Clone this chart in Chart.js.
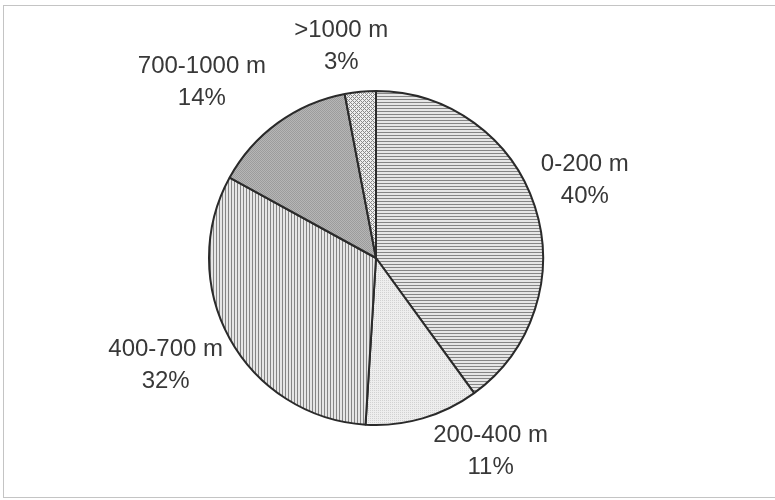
<!DOCTYPE html>
<html>
<head>
<meta charset="utf-8">
<script src="https://cdn.jsdelivr.net/npm/chart.js@4"></script>
<style>
  body { margin: 0; background: #fff; }
  #wrap { position: relative; width: 775px; height: 500px; overflow: hidden; }
  #frame { position: absolute; left: 3px; top: 5px; width: 800px; height: 491px; border: 1px solid #c4c4c4; border-right: none; }
  #pieChart { position: absolute; left: 0; top: 0; }
</style>
</head>
<body>
<div id="wrap">
  <div id="frame"></div>
  <canvas id="pieChart" width="775" height="500"></canvas>
</div>
<script>
const categories = ["0-200 m", "200-400 m", "400-700 m", "700-1000 m", ">1000 m"];
const shares = [40, 11, 32, 14, 3];
const shareLabels = ["40%", "11%", "32%", "14%", "3%"];

// little tiles used as slice fills (scanned-print look)
function makePattern(w, h, draw) {
  const c = document.createElement("canvas");
  c.width = w;
  c.height = h;
  const g = c.getContext("2d");
  draw(g);
  return g.createPattern(c, "repeat");
}

const horizLines = makePattern(1, 3, g => {
  g.fillStyle = "#e6e6e6"; g.fillRect(0, 0, 1, 3);
  g.fillStyle = "#858585"; g.fillRect(0, 0, 1, 1);
});
const lightDots = makePattern(2, 2, g => {
  g.fillStyle = "#eeeeee"; g.fillRect(0, 0, 2, 2);
  g.fillStyle = "#d2d2d2"; g.fillRect(0, 0, 1, 1);
});
const vertLines = makePattern(3, 1, g => {
  g.fillStyle = "#e6e6e6"; g.fillRect(0, 0, 3, 1);
  g.fillStyle = "#858585"; g.fillRect(0, 0, 1, 1);
});
const darkStipple = makePattern(2, 2, g => {
  g.fillStyle = "#b6b6b6"; g.fillRect(0, 0, 2, 2);
  g.fillStyle = "#9c9c9c"; g.fillRect(0, 0, 1, 1); g.fillRect(1, 1, 1, 1);
});
const crossHatch = makePattern(4, 4, g => {
  g.fillStyle = "#eeeeee"; g.fillRect(0, 0, 4, 4);
  g.fillStyle = "#8a8a8a";
  for (let x = 0; x < 4; x++) {
    for (let y = 0; y < 4; y++) {
      if ((x + y) % 4 === 0 || (x - y + 4) % 4 === 0) g.fillRect(x, y, 1, 1);
    }
  }
});

// label placement: offset of each label block from the slice's outer edge at mid angle
const outsideLabels = {
  id: "outsideLabels",
  afterDatasetsDraw(chart, args, opts) {
    const ctx = chart.ctx;
    const meta = chart.getDatasetMeta(0);
    ctx.save();
    ctx.font = "24px 'Liberation Sans', Arial, sans-serif";
    ctx.fillStyle = "#383838";
    ctx.textAlign = "center";
    ctx.textBaseline = "middle";
    meta.data.forEach((arc, i) => {
      const p = arc.getProps(["x", "y", "startAngle", "endAngle", "outerRadius"], true);
      const mid = (p.startAngle + p.endAngle) / 2;
      const ex = p.x + Math.cos(mid) * p.outerRadius;
      const ey = p.y + Math.sin(mid) * p.outerRadius;
      const cx = ex + opts.nudge[i][0];
      const cy = ey + opts.nudge[i][1];
      ctx.fillText(categories[i], cx, cy - 16);
      ctx.fillText(shareLabels[i], cx, cy + 16);
    });
    ctx.restore();
  }
};

new Chart(document.getElementById("pieChart"), {
  type: "pie",
  data: {
    labels: categories,
    datasets: [{
      data: shares,
      backgroundColor: [horizLines, lightDots, vertLines, darkStipple, crossHatch],
      borderColor: "#2a2a2a",
      borderWidth: 2
    }]
  },
  options: {
    responsive: false,
    animation: false,
    layout: { padding: { top: 90, bottom: 74, left: 200, right: 223 } },
    plugins: {
      legend: { display: false },
      tooltip: { enabled: false },
      outsideLabels: {
        nudge: [[50, -26], [68, 33], [-64, 27], [-76, -41], [-19, -45]]
      }
    }
  },
  plugins: [outsideLabels]
});
</script>
</body>
</html>
